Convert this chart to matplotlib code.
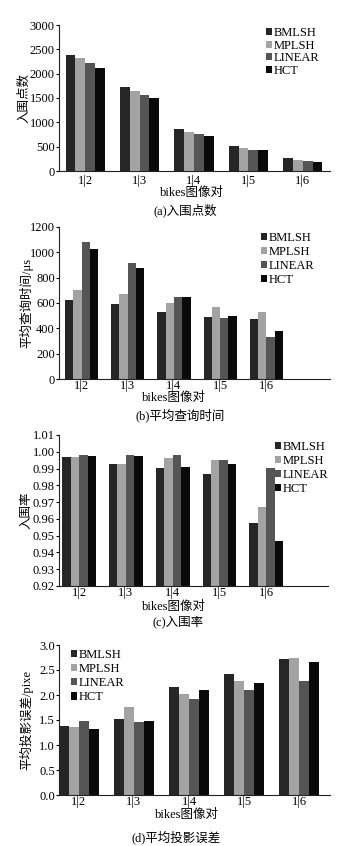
import numpy as np
import matplotlib
matplotlib.use('Agg')
import matplotlib.pyplot as plt

plt.rcParams['font.family'] = ['Liberation Serif', 'Noto Sans CJK SC']
plt.rcParams['font.size'] = 9

W, H = 356, 846

pairs = ['1|2', '1|3', '1|4', '1|5', '1|6']
methods = ['BMLSH', 'MPLSH', 'LINEAR', 'HCT']
colors = ['#262626', '#a3a3a3', '#555555', '#0a0a0a']

inlier_count = [
    [2385, 1722, 868, 519, 266],
    [2323, 1647, 800, 478, 232],
    [2228, 1565, 758, 437, 205],
    [2125, 1503, 717, 424, 191],
]
query_time = [
    [624, 590, 532, 492, 473],
    [703, 669, 600, 566, 531],
    [1082, 912, 645, 484, 333],
    [1026, 875, 648, 497, 381],
]
inlier_rate = [
    [0.9967, 0.9929, 0.9905, 0.9865, 0.9578],
    [0.9967, 0.9925, 0.9961, 0.9953, 0.9668],
    [0.9983, 0.9979, 0.9983, 0.9953, 0.9905],
    [0.9973, 0.9977, 0.9911, 0.9929, 0.9471],
]
proj_error = [
    [1.387, 1.513, 2.167, 2.413, 2.72],
    [1.36, 1.753, 2.02, 2.28, 2.733],
    [1.473, 1.46, 1.913, 2.093, 2.28],
    [1.32, 1.48, 2.107, 2.247, 2.667],
]


def fx(x):
    return x / W


def fy(y):
    return 1 - y / H


fig = plt.figure(figsize=(W / 100, H / 100), dpi=100)

panels = [
    dict(data=inlier_count, box=(59, 25, 330, 171), xlim=(-0.48, 4.5), ylim=(0, 3000),
         yticks=np.arange(0, 3001, 500), fmt='{:.0f}', ylabel='入围点数', ylx=24.5,
         xpad=3, leg=(266, 27), lsp=0.05, xl=(192, 193), cap=(185, 210, '(a)入围点数')),
    dict(data=query_time, box=(59, 227, 330, 379), xlim=(-0.49, 5.38), ylim=(0, 1200),
         yticks=np.arange(0, 1201, 200), fmt='{:.0f}', ylabel='平均查询时间/μs', ylx=26,
         xpad=0.5, leg=(261, 232), lsp=0.17, xl=(174, 398), cap=(180, 415, '(b)平均查询时间')),
    dict(data=inlier_rate, box=(59, 435, 328, 586), xlim=(-0.43, 5.32), ylim=(0.92, 1.01),
         yticks=np.linspace(0.92, 1.01, 10), fmt='{:.2f}', ylabel='入围率', ylx=26,
         xpad=0.5, leg=(275, 441), lsp=0.17, xl=(174, 607), cap=(178, 622, '(c)入围率')),
    dict(data=proj_error, box=(59, 645, 330, 795), xlim=(-0.36, 4.56), ylim=(0, 3.0),
         yticks=np.arange(0, 3.01, 0.5), fmt='{:.1f}', ylabel='平均投影误差/pixe', ylx=26.5,
         xpad=0.5, leg=(71, 649), lsp=0.17, xl=(187, 815), cap=(176, 837, '(d)平均投影误差')),
]

x = np.arange(len(pairs))
bw = 0.18

for p in panels:
    l, t, r, b = p['box']
    ax = fig.add_axes([fx(l), fy(b), (r - l) / W, (b - t) / H])
    for i, (m, c) in enumerate(zip(methods, colors)):
        ax.bar(x + (i - 1.5) * bw, p['data'][i], bw, color=c, label=m, linewidth=0)
    ax.set_xlim(*p['xlim'])
    ax.set_ylim(*p['ylim'])
    ax.set_xticks(x)
    ax.set_xticklabels(pairs)
    ax.set_yticks(p['yticks'])
    ax.set_yticklabels([p['fmt'].format(v) for v in p['yticks']])
    for s in ['top', 'right']:
        ax.spines[s].set_visible(False)
    for s in ['left', 'bottom']:
        ax.spines[s].set_linewidth(0.8)
        ax.spines[s].set_color('#222222')
    ax.tick_params(axis='y', direction='out', length=2.5, width=0.8, pad=0.5)
    ax.tick_params(axis='x', direction='out', length=0, pad=p['xpad'])

    fig.text(fx(p['ylx']), fy((t + b) / 2), p['ylabel'], rotation=90,
             ha='center', va='center', fontsize=9)
    fig.text(fx(p['xl'][0]), fy(p['xl'][1]), 'bikes图像对', ha='center', va='center', fontsize=9)
    fig.text(fx(p['cap'][0]), fy(p['cap'][1]), p['cap'][2], ha='center', va='center', fontsize=9)

    ax.legend(loc='upper left', bbox_to_anchor=(fx(p['leg'][0]), fy(p['leg'][1])),
              bbox_transform=fig.transFigure, frameon=False, fontsize=9,
              handlelength=0.5, handleheight=0.5, handletextpad=0.15,
              labelspacing=p['lsp'], borderpad=0, borderaxespad=0)

fig.savefig('out.png', dpi=100)
